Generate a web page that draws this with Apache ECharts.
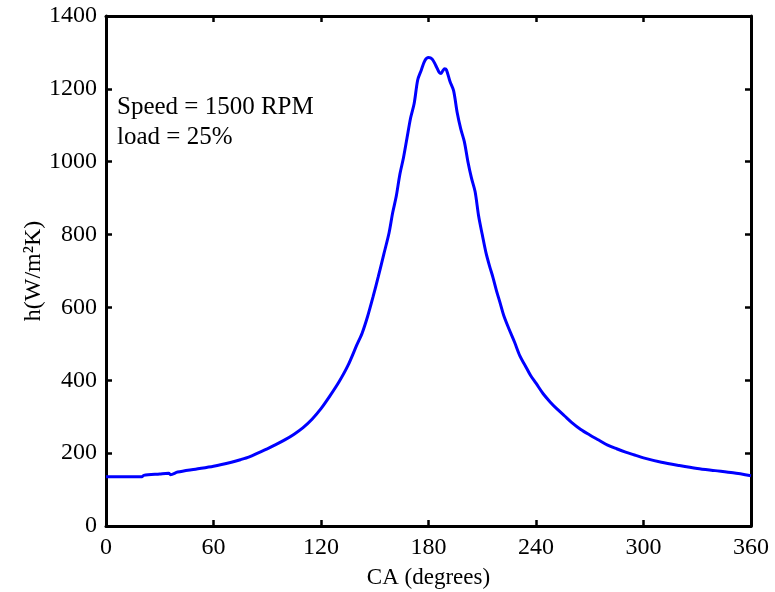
<!DOCTYPE html>
<html>
<head>
<meta charset="utf-8">
<script src="https://cdn.jsdelivr.net/npm/echarts@6/dist/echarts.min.js"></script>
<style>html,body{margin:0;padding:0;background:#fff}#c{width:775px;height:592px}</style>
</head>
<body>
<div id="c"></div>
<script>
const crankAngle = [0,10,20,21,30,35,36,40,50,60,70,75,80,85,90,95,100,105,110,115,120,125,130,135,140,143,146,149,152,155,158,160,162,164,166,168,170,172,174,176,178,180,182,184,186,187,188,189,190,192,194,196,198,200,202,204,206,208,210,212,214,216,218,220,222,225,228,231,234,237,240,244,248,252,256,260,265,270,275,280,285,290,295,300,310,320,330,340,350,360];
const heatCoef = [135,135,135,139,143,145,141,148,156,164,175,182,190,201,212,224,237,252,270,293,322,357,395,440,497,530,575,628,685,745,805,860,905,965,1010,1065,1120,1160,1225,1252,1278,1286,1282,1265,1245,1242,1250,1255,1252,1220,1195,1135,1090,1055,1000,955,918,850,800,752,715,682,645,612,578,540,505,467,440,413,392,363,340,320,302,284,265,250,236,222,212,203,195,187,175,166,158,152,146,138];
const xTicks = [0,60,120,180,240,300,360];
const yTicks = [0,200,400,600,800,1000,1200,1400];
const annotation = ['Speed = 1500 RPM', 'load = 25%'];

const FONT = 'Liberation Serif';
const chart = echarts.init(document.getElementById('c'), null, {renderer:'canvas'});
const axisLine = {show:true, onZero:false, lineStyle:{color:'#000', width:3}};
const tick = {show:true, inside:true, length:6, lineStyle:{color:'#000', width:2.5}};
const fmt = v => String(v);
chart.setOption({
  animation:false,
  backgroundColor:'#fff',
  grid:{left:106, right:24, top:16, bottom:66, containLabel:false, outerBoundsMode:'none'},
  xAxis:[{
    type:'value', position:'bottom', min:xTicks[0], max:xTicks[xTicks.length-1], interval:60,
    axisLine, axisTick:tick, splitLine:{show:false},
    axisLabel:{color:'#000', fontFamily:FONT, fontSize:24, margin:10, formatter:fmt},
    name:'CA (degrees)', nameLocation:'middle', nameGap:40, nameMoveOverlap:false,
    nameTextStyle:{color:'#000', fontFamily:FONT, fontSize:23}
  },{
    type:'value', position:'top', min:0, max:360, interval:60,
    axisLine, axisTick:tick, axisLabel:{show:false}, splitLine:{show:false}
  }],
  yAxis:[{
    type:'value', position:'left', min:yTicks[0], max:yTicks[yTicks.length-1], interval:200,
    axisLine, axisTick:tick, splitLine:{show:false},
    axisLabel:{color:'#000', fontFamily:FONT, fontSize:24, margin:9, formatter:fmt},
    name:'h(W/m²K)', nameLocation:'middle', nameGap:60, nameRotate:90, nameMoveOverlap:false,
    nameTextStyle:{color:'#000', fontFamily:FONT, fontSize:24}
  },{
    type:'value', position:'right', min:0, max:1400, interval:200,
    axisLine, axisTick:tick, axisLabel:{show:false}, splitLine:{show:false}
  }],
  graphic:[{
    type:'text', left:117, top:92,
    style:{text:annotation.join('\n'), font:'25px "Liberation Serif"', fill:'#000', lineHeight:30}
  }],
  series:[{
    type:'line', xAxisIndex:0, yAxisIndex:0,
    data: crankAngle.map((a,i)=>[a, heatCoef[i]]),
    showSymbol:false, smooth:0.3,
    lineStyle:{color:'#0000ff', width:3}
  }]
});
</script>
</body>
</html>
